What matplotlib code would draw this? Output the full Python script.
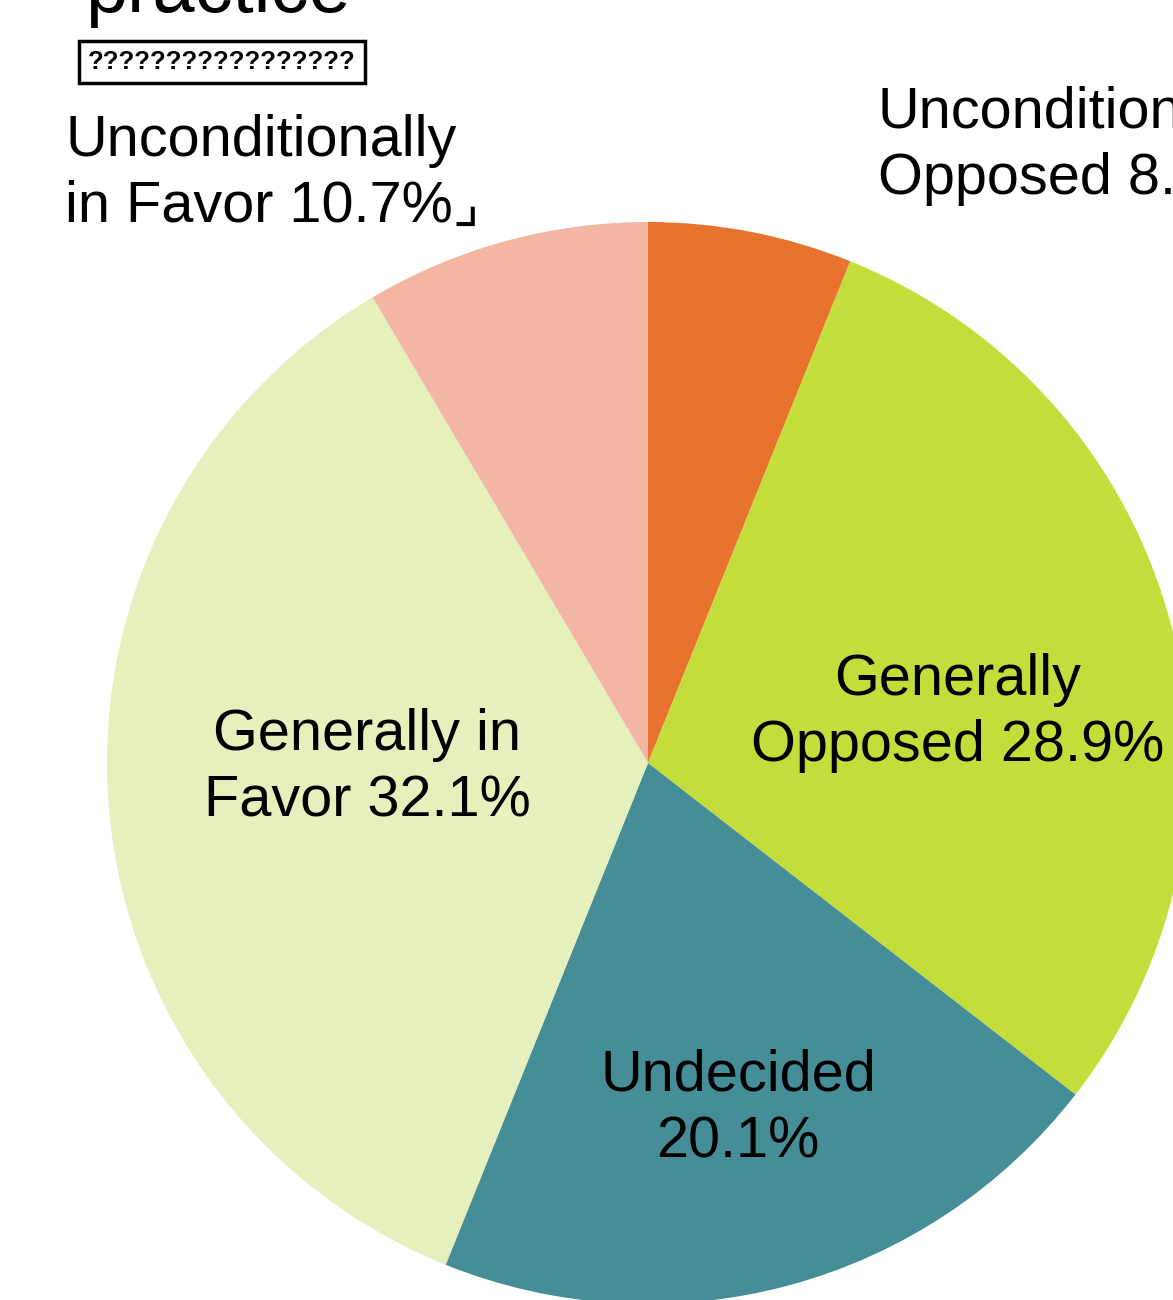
import matplotlib
matplotlib.use("Agg")
import numpy as np
import matplotlib.pyplot as plt

plt.rcParams["font.family"] = ["Liberation Sans", "DejaVu Sans"]

# slice sizes and the printed labels
categories = [
    "Unconditionally Opposed",
    "Generally Opposed",
    "Undecided",
    "Generally in Favor",
    "Unconditionally in Favor",
]
shares = [6.1, 29.4, 20.6, 35.4, 8.5]
label_texts = [
    "Unconditionally\nOpposed 8.2%",
    "Generally\nOpposed 28.9%",
    "Undecided\n20.1%",
    "Generally in\nFavor 32.1%",
    "Unconditionally\nin Favor 10.7%\u231f",
]
colors = ["#E8732E", "#C3DE3B", "#468E97", "#E5F0BD", "#F3B6A3"]

W, H = 1173, 1300
cx, cy, rad = 648, 763, 541  # pie centre and radius in pixels

fig = plt.figure(figsize=(W / 100, H / 100), dpi=100)
ax = fig.add_axes([0, 0, 1, 1])
ax.pie(
    shares,
    colors=colors,
    startangle=90,
    counterclock=False,
    radius=1,
    wedgeprops=dict(linewidth=0),
)
ax.set_xlim(-cx / rad, (W - cx) / rad)
ax.set_ylim(-(H - cy) / rad, cy / rad)
ax.set_aspect("auto")
ax.axis("off")


def px(x, y):
    # pixel position (from top-left) -> data coords
    return (x - cx) / rad, (cy - y) / rad


# label anchors in pixels: (x, y, ha)
label_pos = [
    (878, 146, "left"),
    (958, 713, "center"),
    (738, 1109, "center"),
    (367, 768, "center"),
    (65, 174, "left"),
]
for txt, (x, y, ha) in zip(label_texts, label_pos):
    dx, dy = px(x, y)
    ax.text(dx, dy, txt, ha=ha, va="center", fontsize=41.5,
            multialignment="left" if ha == "left" else "center",
            linespacing=1.3)

# title (cut off at the top) and unreadable subtitle box
fig.text(85 / W, 1 - 12 / H, "practice", fontsize=54.5, ha="left",
         va="baseline")
fig.text(88 / W, 1 - 62 / H, "?" * 17, fontsize=18.5, fontweight="bold",
         ha="left", va="center",
         bbox=dict(boxstyle="square,pad=0.35", fc="white", ec="black", lw=2.5))

fig.savefig("out.png", dpi=100)
plt.close()
